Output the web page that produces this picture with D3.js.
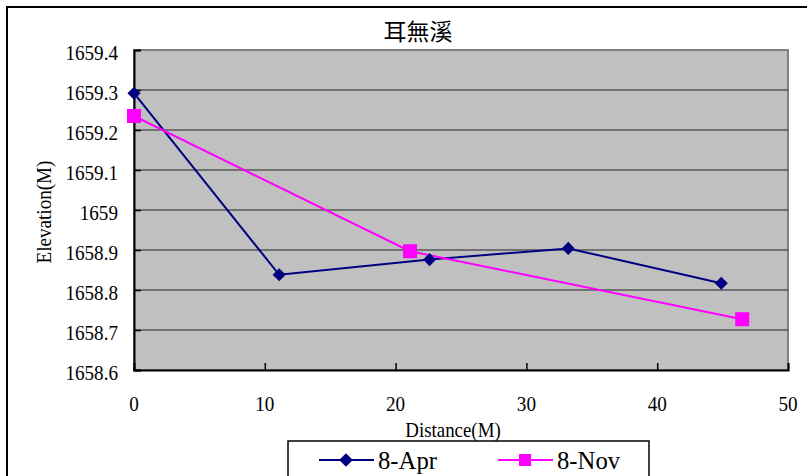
<!DOCTYPE html>
<html><head><meta charset="utf-8">
<script src="https://cdn.jsdelivr.net/npm/d3@7"></script>
<style>
body{margin:0;background:#fff;}
svg{display:block;}
text{font-family:"Liberation Serif","Times New Roman","DejaVu Serif",serif;fill:#000;}
</style></head>
<body>
<svg id="c" width="807" height="476"></svg>
<script>
const title = "耳無溪";
const xLabel = "Distance(M)";
const yLabel = "Elevation(M)";
const seriesNames = ["8-Apr", "8-Nov"];
const aprDist = [0, 11.1, 22.6, 33.2, 44.9];
const aprElev = [1659.292, 1658.838, 1658.876, 1658.904, 1658.817];
const novDist = [0, 21.1, 46.5];
const novElev = [1659.235, 1658.897, 1658.727];
const xTicks = [0, 10, 20, 30, 40, 50];
const yTicks = [1658.6, 1658.7, 1658.8, 1658.9, 1659, 1659.1, 1659.2, 1659.3, 1659.4];

const svg = d3.select("#c");
const L = 134, R = 788, T = 50, B = 370;
const x = d3.scaleLinear().domain([0, 50]).range([L, R]);
const y = d3.scaleLinear().domain([1658.6, 1659.4]).range([B, T]);

// condensed serif text helper (mimics the narrow Ming-style Latin glyphs)
function txt(g, px, py, s, size, sx, anchor, rot) {
  return g.append("text")
    .attr("transform", `translate(${px},${py})${rot ? ` rotate(${rot})` : ""} scale(${sx},1)`)
    .attr("text-anchor", anchor).attr("font-size", size).text(s);
}

// outer chart border
svg.append("rect").attr("x", 7).attr("y", 7).attr("width", 820).attr("height", 480)
  .attr("fill", "#fff").attr("stroke", "#000").attr("stroke-width", 2);

// plot area
svg.append("rect").attr("x", L).attr("y", T).attr("width", R - L).attr("height", B - T)
  .attr("fill", "#c0c0c0").attr("stroke", "#808080").attr("stroke-width", 2);

// gridlines
svg.append("g").selectAll("line").data(yTicks.slice(1, -1)).join("line")
  .attr("x1", L).attr("x2", R).attr("y1", d => y(d)).attr("y2", d => y(d))
  .attr("stroke", "#222").attr("stroke-width", 1);

// y axis (inward ticks)
const yAxis = d3.axisRight(y).tickValues(yTicks).tickSize(7).tickFormat("");
const gy = svg.append("g").attr("transform", `translate(${L},0)`).call(yAxis);
gy.select(".domain").attr("stroke", "#000").attr("stroke-width", 2);
gy.selectAll(".tick line").attr("stroke", "#000").attr("stroke-width", 1.5);
const gyl = svg.append("g");
yTicks.forEach(d => txt(gyl, 118, y(d) + 10, d3.format("")(d), 22, 0.87, "end"));

// x axis (inward ticks)
const xAxis = d3.axisTop(x).tickValues(xTicks).tickSize(7).tickFormat("");
const gx = svg.append("g").attr("transform", `translate(0,${B})`).call(xAxis);
gx.select(".domain").attr("stroke", "#000").attr("stroke-width", 2);
gx.selectAll(".tick line").attr("stroke", "#000").attr("stroke-width", 1.5);
const gxl = svg.append("g");
xTicks.forEach(d => txt(gxl, x(d), 411, String(d), 22, 0.87, "middle"));

// axis titles
txt(svg, 453, 437, xLabel, 21, 0.9, "middle");
txt(svg, 51, 212, yLabel, 21, 0.91, "middle", -90);

// title
svg.append("text").attr("x", 418).attr("y", 40).attr("text-anchor", "middle")
  .attr("font-size", 23).style("font-family", "'Noto Sans CJK TC','Noto Sans CJK SC',sans-serif")
  .text(title);

const line = d3.line().x(d => x(d[0])).y(d => y(d[1]));
const apr = aprDist.map((d, i) => [d, aprElev[i]]);
const nov = novDist.map((d, i) => [d, novElev[i]]);
const cApr = "#000080", cNov = "#ff00ff";
const diamond = d3.symbol().type(d3.symbolDiamond2).size(110);
const square = d3.symbol().type(d3.symbolSquare).size(196);

svg.append("path").datum(apr).attr("d", line).attr("fill", "none")
  .attr("stroke", cApr).attr("stroke-width", 2);
svg.append("path").datum(nov).attr("d", line).attr("fill", "none")
  .attr("stroke", cNov).attr("stroke-width", 2);
svg.append("g").selectAll("path").data(apr).join("path")
  .attr("transform", d => `translate(${x(d[0])},${y(d[1])})`)
  .attr("d", diamond).attr("fill", cApr);
svg.append("g").selectAll("path").data(nov).join("path")
  .attr("transform", d => `translate(${x(d[0])},${y(d[1])})`)
  .attr("d", square).attr("fill", cNov);

// legend
const lg = svg.append("g");
lg.append("rect").attr("x", 288).attr("y", 441).attr("width", 361).attr("height", 50)
  .attr("fill", "#fff").attr("stroke", "#000").attr("stroke-width", 1.5);
const items = [
  {name: seriesNames[0], c: cApr, sym: d3.symbol().type(d3.symbolDiamond2).size(120), x0: 319},
  {name: seriesNames[1], c: cNov, sym: d3.symbol().type(d3.symbolSquare).size(144), x0: 498}
];
items.forEach(it => {
  lg.append("line").attr("x1", it.x0).attr("x2", it.x0 + 55).attr("y1", 460).attr("y2", 460)
    .attr("stroke", it.c).attr("stroke-width", 2);
  lg.append("path").attr("transform", `translate(${it.x0 + 27},460)`).attr("d", it.sym).attr("fill", it.c);
  txt(lg, it.x0 + 59, 469, it.name, 26, 0.95, "start");
});
</script>
</body></html>
